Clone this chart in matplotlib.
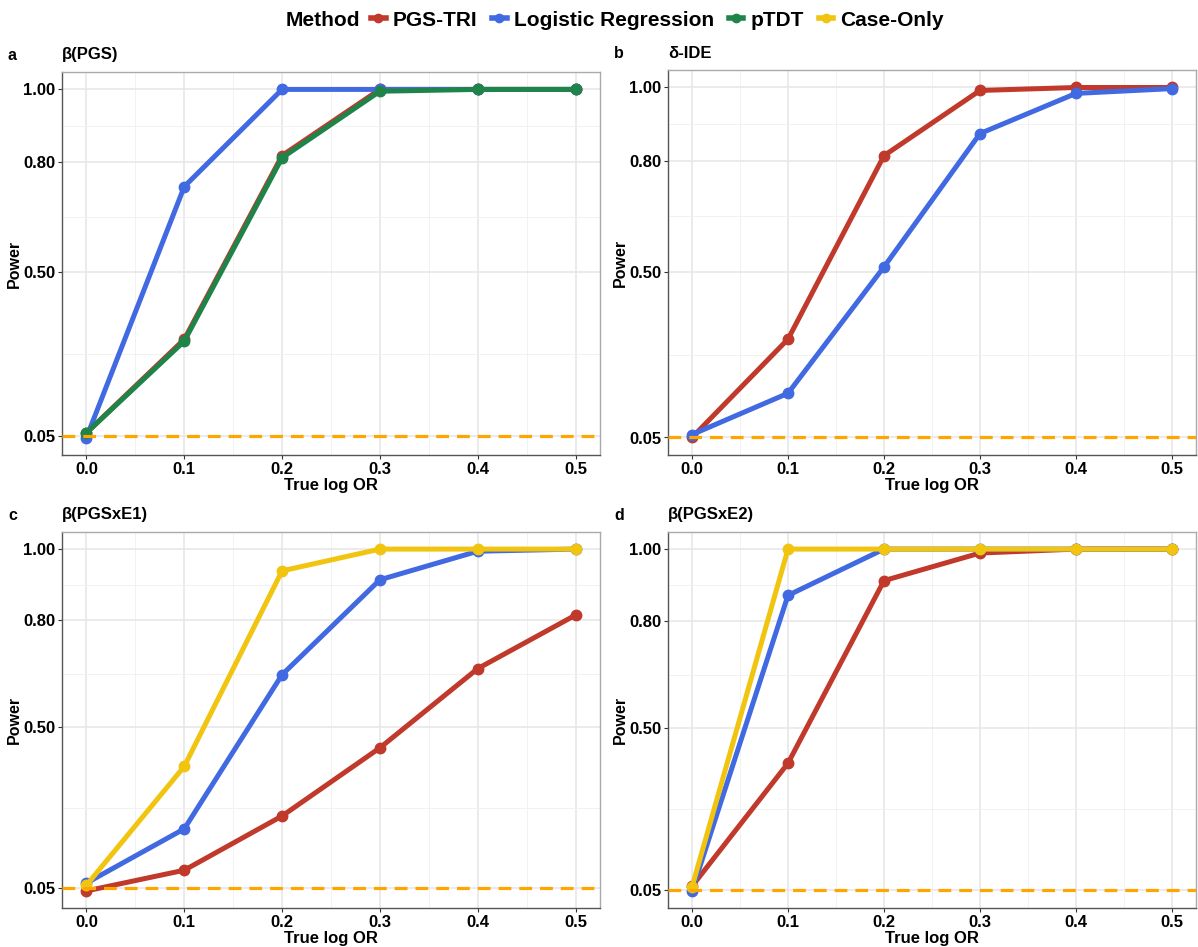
import matplotlib
matplotlib.use("Agg")
import matplotlib.pyplot as plt
from matplotlib.lines import Line2D
import numpy as np

plt.rcParams['font.family'] = ['Liberation Sans', 'DejaVu Sans']
plt.rcParams['font.weight'] = 'bold'

x_vals = [0.0, 0.1, 0.2, 0.3, 0.4, 0.5]
methods = ["PGS-TRI", "Logistic Regression", "pTDT", "Case-Only"]
colors = {"PGS-TRI": "#C0392B", "Logistic Regression": "#4169E1",
          "pTDT": "#1E8449", "Case-Only": "#F1C40F"}

panel_letters = ["a", "b", "c", "d"]
panel_titles = ["β(PGS)", "δ-IDE", "β(PGSxE1)", "β(PGSxE2)"]

power_a = {
    "PGS-TRI": [0.060, 0.316, 0.819, 1.000, 1.000, 1.000],
    "Logistic Regression": [0.047, 0.734, 1.000, 1.000, 1.000, 1.000],
    "pTDT": [0.060, 0.311, 0.813, 0.995, 1.000, 1.000],
}
power_b = {
    "PGS-TRI": [0.050, 0.317, 0.815, 0.992, 1.000, 1.000],
    "Logistic Regression": [0.058, 0.170, 0.513, 0.875, 0.984, 0.997],
}
power_c = {
    "PGS-TRI": [0.042, 0.100, 0.252, 0.443, 0.665, 0.815],
    "Logistic Regression": [0.064, 0.216, 0.648, 0.914, 0.994, 1.000],
    "Case-Only": [0.058, 0.391, 0.939, 1.000, 1.000, 1.000],
}
power_d = {
    "PGS-TRI": [0.060, 0.403, 0.912, 0.989, 1.000, 1.000],
    "Logistic Regression": [0.047, 0.871, 1.000, 1.000, 1.000, 1.000],
    "Case-Only": [0.058, 1.000, 1.000, 1.000, 1.000, 1.000],
}
panels = [power_a, power_b, power_c, power_d]

y_breaks = [0.05, 0.50, 0.80, 1.00]
y_labels = ["0.05", "0.50", "0.80", "1.00"]
x_breaks = [0.0, 0.1, 0.2, 0.3, 0.4, 0.5]
x_labels = ["0.0", "0.1", "0.2", "0.3", "0.4", "0.5"]
alpha_level = 0.05

W, H = 1198, 947
fig = plt.figure(figsize=(W / 100, H / 100), dpi=100)

# pixel boxes: left, top, right, bottom
boxes = [(62, 72, 600, 455), (668, 70, 1196, 455),
         (62, 532, 600, 908), (668, 532, 1196, 908)]

for i, (box, data) in enumerate(zip(boxes, panels)):
    l, t, r, b = box
    ax = fig.add_axes([l / W, 1 - b / H, (r - l) / W, (b - t) / H])
    for m in methods:
        if m in data:
            ax.plot(x_vals, data[m], color=colors[m], lw=3.6, marker='o',
                    ms=7.5, solid_capstyle='round', zorder=3)
    ax.axhline(alpha_level, color='#FFA500', lw=2.3, ls=(0, (4, 2.5)), zorder=4)
    allv = np.concatenate([np.array(v) for v in data.values()] + [[alpha_level]])
    lo, hi = allv.min(), allv.max()
    pad = (hi - lo) * 0.05
    ax.set_ylim(lo - pad, hi + pad)
    ax.set_xlim(-0.025, 0.525)
    ax.set_yticks(y_breaks)
    ax.set_yticklabels(y_labels)
    ax.set_xticks(x_breaks)
    ax.set_xticklabels(x_labels)
    mids = [(y_breaks[k] + y_breaks[k + 1]) / 2 for k in range(len(y_breaks) - 1)]
    ax.set_yticks(mids, minor=True)
    ax.set_xticks([0.05, 0.15, 0.25, 0.35, 0.45], minor=True)
    ax.grid(True, which='major', color='#E6E6E6', lw=1.1, zorder=0)
    ax.grid(True, which='minor', color='#F2F2F2', lw=0.7, zorder=0)
    ax.tick_params(which='minor', length=0)
    ax.tick_params(which='major', length=3, width=0.8, color='#333333',
                   labelsize=12, labelcolor='black', pad=2)
    for lab in ax.get_xticklabels() + ax.get_yticklabels():
        lab.set_fontweight('bold')
    for s in ['top', 'right']:
        ax.spines[s].set_color('#AAAAAA')
        ax.spines[s].set_linewidth(1.0)
    for s in ['left', 'bottom']:
        ax.spines[s].set_color('#555555')
        ax.spines[s].set_linewidth(1.0)
    ax.set_axisbelow(True)
    ax.set_xlabel("True log OR", fontsize=12, fontweight='bold', labelpad=1)
    ax.set_ylabel("Power", fontsize=11.5, fontweight='bold', labelpad=1)
    fig.text((l - 54) / W, 1 - (t - 17) / H, panel_letters[i], fontsize=11.5,
             fontweight='bold', va='center', ha='left')
    fig.text(l / W, 1 - (t - 17) / H, panel_titles[i], fontsize=12,
             fontweight='bold', va='center', ha='left')

legend_y = 1 - 20 / H
fig.text(360 / W, legend_y, "Method", fontsize=15, fontweight='bold',
         ha='right', va='center')
handles = [Line2D([0], [0], color=colors[m], lw=4.0, marker='o', ms=6)
           for m in methods]
leg = fig.legend(handles, methods, loc='center left',
                 bbox_to_anchor=(371 / W, legend_y),
                 ncol=4, frameon=False,
                 prop={'size': 15, 'weight': 'bold'}, handlelength=0.7,
                 handletextpad=0.35, columnspacing=0.7, borderaxespad=0,
                 borderpad=0)

fig.savefig("out.png", dpi=100)
